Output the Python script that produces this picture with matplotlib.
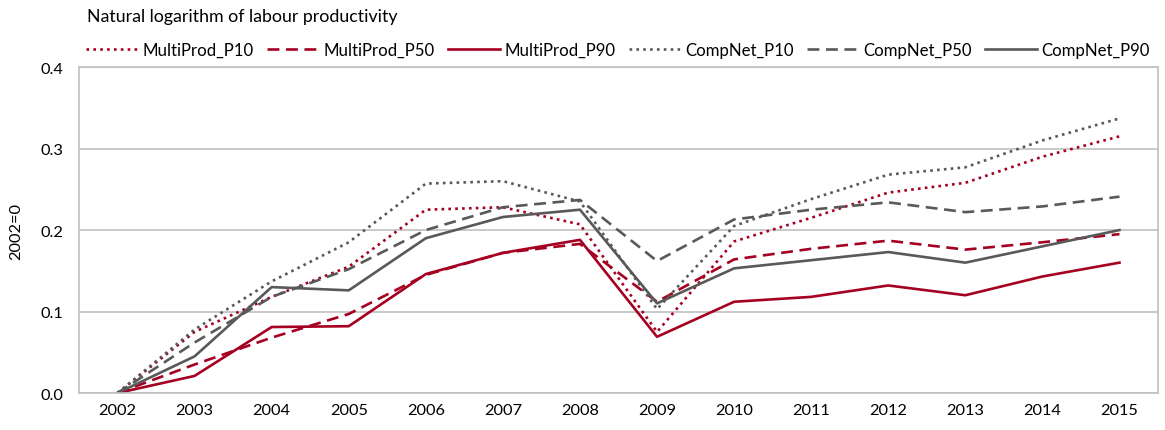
import matplotlib.pyplot as plt
import numpy as np

plt.rcParams['font.family'] = ['Lato', 'DejaVu Sans']

years = ['2002', '2003', '2004', '2005', '2006', '2007', '2008',
         '2009', '2010', '2011', '2012', '2013', '2014', '2015']

multiprod_p10 = [0, 0.075, 0.118, 0.155, 0.225, 0.228, 0.207, 0.075, 0.186, 0.215, 0.246, 0.258, 0.290, 0.315]
multiprod_p50 = [0, 0.035, 0.068, 0.097, 0.145, 0.172, 0.183, 0.112, 0.164, 0.177, 0.187, 0.176, 0.185, 0.195]
multiprod_p90 = [0, 0.021, 0.081, 0.082, 0.146, 0.172, 0.188, 0.069, 0.112, 0.118, 0.132, 0.120, 0.143, 0.160]
compnet_p10 = [0, 0.078, 0.137, 0.185, 0.257, 0.260, 0.235, 0.103, 0.205, 0.238, 0.268, 0.277, 0.310, 0.337]
compnet_p50 = [0, 0.062, 0.118, 0.152, 0.200, 0.228, 0.237, 0.162, 0.213, 0.225, 0.234, 0.222, 0.229, 0.241]
compnet_p90 = [0, 0.045, 0.130, 0.126, 0.190, 0.216, 0.225, 0.110, 0.153, 0.163, 0.173, 0.160, 0.180, 0.200]

red = '#A50021'
grey = '#595959'

fig = plt.figure(figsize=(11.65, 4.31), dpi=100)
ax = fig.add_axes([0.0678, 0.0858, 0.9262, 0.7562])

x = np.arange(len(years))
series = [
    (multiprod_p10, 'MultiProd_P10', red, (0, (1, 1.6))),
    (multiprod_p50, 'MultiProd_P50', red, (0, (4.5, 2.5))),
    (multiprod_p90, 'MultiProd_P90', red, '-'),
    (compnet_p10, 'CompNet_P10', grey, (0, (1, 1.6))),
    (compnet_p50, 'CompNet_P50', grey, (0, (4.5, 2.5))),
    (compnet_p90, 'CompNet_P90', grey, '-'),
]
for vals, label, color, ls in series:
    ax.plot(x, vals, color=color, linestyle=ls, linewidth=1.9, label=label)

ax.set_xlim(-0.5, len(years) - 0.5)
ax.set_ylim(0, 0.4)
ax.set_xticks(x)
ax.set_xticklabels(years)
ax.set_yticks([0, 0.1, 0.2, 0.3, 0.4])
ax.set_yticklabels(['0.0', '0.1', '0.2', '0.3', '0.4'])
ax.tick_params(length=0, labelsize=11.8, colors='black')
ax.tick_params(axis='x', pad=7)
ax.tick_params(axis='y', pad=11)
ax.grid(axis='y', color='#C0C0C0', linewidth=1.2)
ax.set_axisbelow(True)
for s in ax.spines.values():
    s.set_color('#C0C0C0')
    s.set_linewidth(1.2)
ax.set_ylabel('2002=0', fontsize=11.8, labelpad=13)

fig.text(0.0747, 0.96, 'Natural logarithm of labour productivity', fontsize=12.8, va='center')
fig.legend(loc='center left', bbox_to_anchor=(0.074, 0.882), ncol=6, frameon=False,
           fontsize=12.1, handlelength=3.1, handletextpad=0.25, columnspacing=0.8,
           borderaxespad=0, borderpad=0)

fig.savefig('out.png', dpi=100)
